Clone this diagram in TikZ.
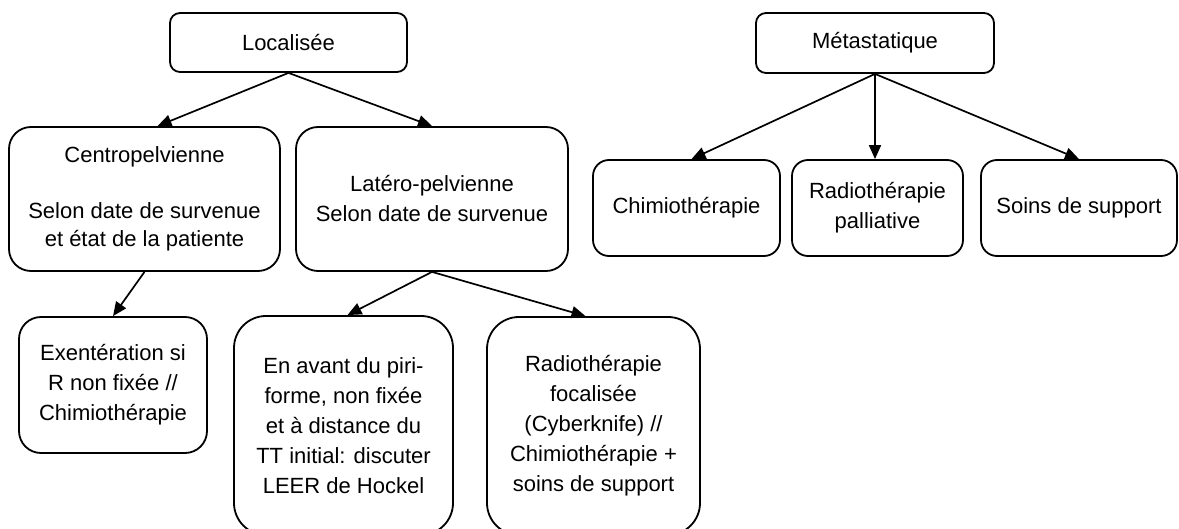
\documentclass[tikz,border=0pt]{standalone}
\usepackage{fontspec}
\setmainfont{Liberation Sans}
\usetikzlibrary{arrows.meta}
\begin{document}
\begin{tikzpicture}[x=1pt,y=-1pt,
  box/.style={draw, line width=1.8pt, rounded corners=#1, align=center,
    inner sep=0pt, font=\fontsize{22}{30}\selectfont},
  box/.default=12pt,
  link/.style={line width=1.7pt, -{Triangle[length=14pt,width=12pt]}}]
\useasboundingbox[fill=white] (0,0) rectangle (1179,529);

% top level
\node[box=10pt, minimum width=237pt, minimum height=59pt] (loc) at (288.5,42.5) {Localisée};
\node[box=10pt, minimum width=238pt, minimum height=60pt] (meta) at (875,43) {Métastatique};

% localised branch
\node[box=22pt, minimum width=271pt, minimum height=144pt,
  font=\fontsize{22}{28}\selectfont] (centro) at (144.5,199)
  {Centropelvienne\\[28pt]Selon date de survenue\\et état de la patiente};
\node[box=22pt, minimum width=272pt, minimum height=144pt] (lat) at (432,199)
  {Latéro-pelvienne\\Selon date de survenue};

\node[box=22pt, minimum width=188pt, minimum height=136pt] (exent) at (113,385)
  {Exentération si\\R non fixée //\\Chimiothérapie};
\node[box=32pt, minimum width=219pt, minimum height=219pt] (avant) at (343.5,425.5)
  {En avant du piri-\\forme, non fixée\\et à distance du\\TT initial: discuter\\LEER de Hockel};
\node[box=32pt, minimum width=213pt, minimum height=218pt] (focal) at (593.5,426)
  {Radiothérapie\\focalisée\\(Cyberknife) //\\Chimiothérapie +\\soins de support};

% metastatic branch
\node[box=16pt, minimum width=187pt, minimum height=96pt] (chimio) at (686.5,208) {Chimiothérapie};
\node[box=16pt, minimum width=171pt, minimum height=96pt] (radpal) at (877.5,208)
  {Radiothérapie\\palliative};
\node[box=16pt, minimum width=196pt, minimum height=96pt] (soins) at (1079,208) {Soins de support};

% connectors
\draw[link] (loc.south) -- ([xshift=13pt]centro.north);
\draw[link] (loc.south) -- (lat.north);
\draw[link] (centro.south) -- (exent.north);
\draw[link] (lat.south) -- ([xshift=4pt]avant.north);
\draw[link] (lat.south) -- ([xshift=-8pt]focal.north);
\draw[link] (meta.south) -- ([xshift=5pt]chimio.north);
\draw[link] (meta.south) -- (meta.south |- radpal.north);
\draw[link] (meta.south) -- (soins.north);
\end{tikzpicture}
\end{document}
